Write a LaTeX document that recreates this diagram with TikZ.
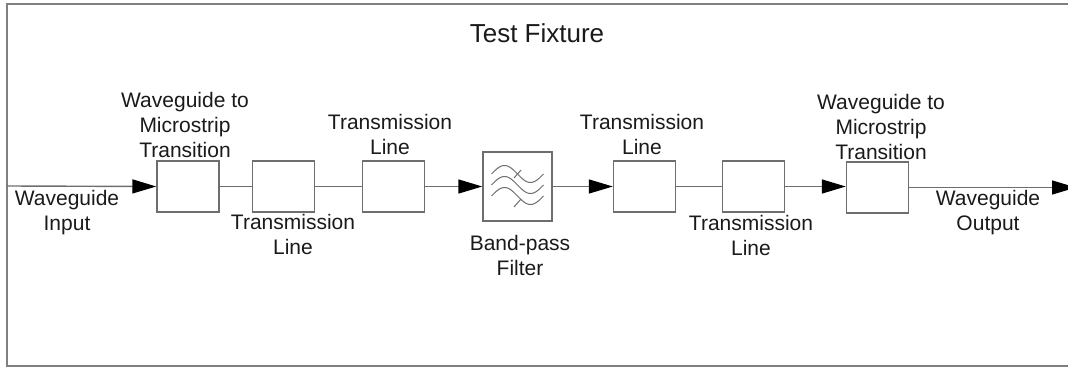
\documentclass[tikz,border=0pt]{standalone}
\usepackage{fontspec}
\setmainfont{Liberation Sans}
\usetikzlibrary{arrows.meta}
\definecolor{frame}{HTML}{808080}
\definecolor{wire}{HTML}{6E6E6E}
\definecolor{ink}{HTML}{1A1A1A}
\tikzset{
  block/.style={draw=wire, line width=1.4pt, fill=white, rectangle,
    minimum width=62pt, minimum height=51pt, inner sep=0pt},
  filterbox/.style={draw=wire, line width=1.4pt, fill=white, rectangle,
    minimum width=69pt, minimum height=69pt, inner sep=0pt},
  lbl/.style={align=center, text=ink, inner sep=0pt,
    font=\fontsize{21}{25}\selectfont},
  wire/.style={draw=wire, line width=1.4pt},
  feed/.style={wire, -{Triangle[length=24pt, width=14pt, color=black, fill=black]}},
}
\begin{document}
\begin{tikzpicture}[x=1pt, y=-1pt]
\useasboundingbox (0,0) rectangle (1068,369);
% fixture outline (open on the right)
\draw[frame, line width=2pt] (1075,4) -- (7,4) -- (7,366) -- (1075,366);
\node[lbl, font=\fontsize{26}{30}\selectfont] (title) at (537,33) {Test Fixture};

% signal chain
\coordinate (src) at (7,186);
\node[block] (wm1) at (188,186.5) {};
\node[block] (tl2) at (283.5,186.5) {};
\node[block] (tl3) at (393.5,186.5) {};
\node[filterbox] (bpf) at (517.5,186.5) {};
\node[block] (tl4) at (644.5,186.5) {};
\node[block] (tl5) at (753.5,186.5) {};
\node[block] (wm6) at (877.5,187.5) {};
\coordinate (dst) at (1076,187.5);

% band-pass symbol: three waves, the outer two struck through
\foreach \yc in {174,185,196}
  \draw[wire, line width=1pt] plot[domain=0:52, samples=60, smooth]
    ({491.5+\x}, {\yc - 8.5*sin(\x/52*360 + 0)});
\draw[wire, line width=1pt] (514,178) -- (521,170);
\draw[wire, line width=1pt] (514,207) -- (521,199);

% connectors
\draw[feed] (src) -- (wm1.west);
\draw[wire] (wm1.east) -- (tl2.west);
\draw[wire] (tl2.east) -- (tl3.west);
\draw[feed] (tl3.east) -- (bpf.west);
\draw[feed] (bpf.east) -- (tl4.west);
\draw[wire] (tl4.east) -- (tl5.west);
\draw[feed] (tl5.east) -- (tl5.east -| wm6.west);
\draw[feed] (wm6.east) -- (dst);

% labels
\node[lbl] (l-in) at (67,213) {Waveguide\\Input};
\node[lbl] (l-wm1) at (185,125) {Waveguide to\\Microstrip\\Transition};
\node[lbl] (l-tl2) at (293,234.5) {Transmission\\Line};
\node[lbl] (l-tl3) at (390,134.5) {Transmission\\Line};
\node[lbl] (l-bpf) at (520,255.5) {Band-pass\\Filter};
\node[lbl] (l-tl4) at (642,134.5) {Transmission\\Line};
\node[lbl] (l-tl5) at (751,235.5) {Transmission\\Line};
\node[lbl] (l-wm6) at (881,127) {Waveguide to\\Microstrip\\Transition};
\node[lbl] (l-out) at (988,213) {Waveguide\\Output};
\end{tikzpicture}
\end{document}
